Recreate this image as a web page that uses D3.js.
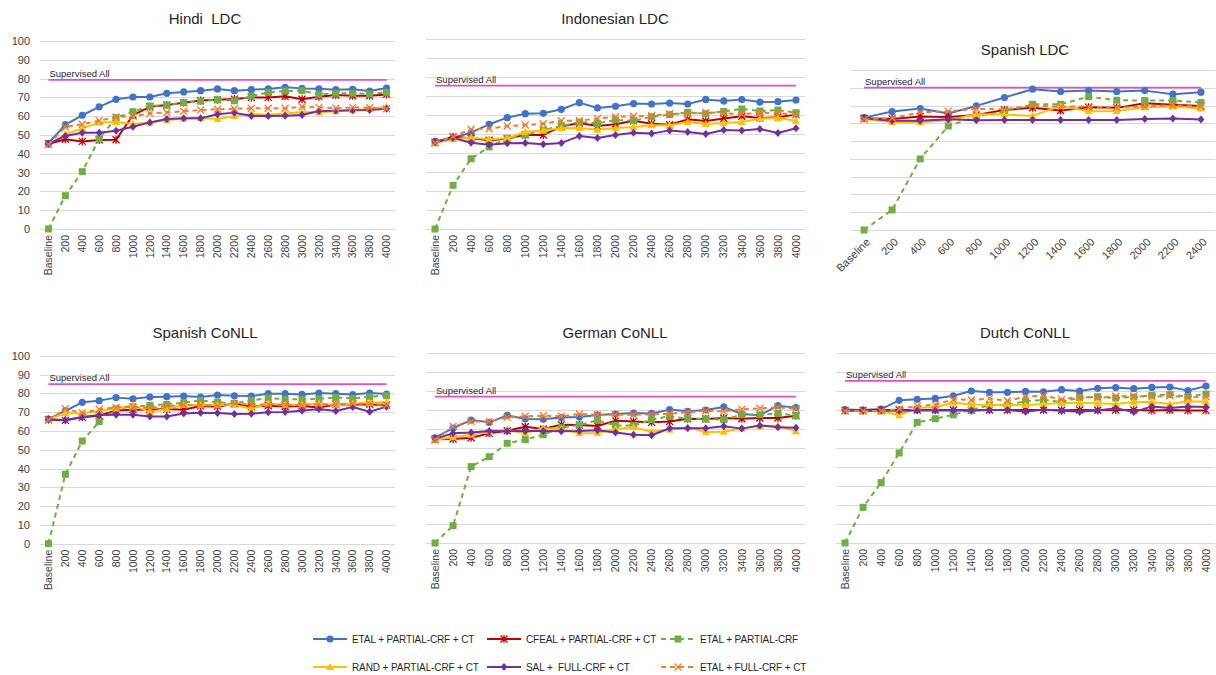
<!DOCTYPE html>
<html>
<head>
<meta charset="utf-8">
<script src="https://d3js.org/d3.v7.min.js"></script>
<style>
  body { margin: 0; background: #fff; }
  svg { font-family: "Liberation Sans", Arial, sans-serif; }
  .grid line { stroke: #d9d9d9; stroke-width: 1; }
  .tick text { fill: #404040; }
</style>
</head>
<body>
<svg width="1216" height="675"></svg>
<script>
// categories
const cats4000 = ["Baseline", "200", "400", "600", "800", "1000", "1200", "1400", "1600", "1800", "2000",
  "2200", "2400", "2600", "2800", "3000", "3200", "3400", "3600", "3800", "4000"];
const cats2400 = ["Baseline", "200", "400", "600", "800", "1000", "1200", "1400", "1600", "1800", "2000", "2200", "2400"];
const yTicks = [0, 10, 20, 30, 40, 50, 60, 70, 80, 90, 100];

const seriesNames = ["ETAL + PARTIAL-CRF + CT", "CFEAL + PARTIAL-CRF + CT", "ETAL + PARTIAL-CRF",
  "RAND + PARTIAL-CRF + CT", "SAL +  FULL-CRF + CT", "ETAL + FULL-CRF + CT"];

// Hindi LDC
const hiEtalCt  = [45.6, 55.5, 60.5, 65, 69, 70.2, 70.2, 72.2, 72.9, 73.6, 74.5, 73.6, 74.1, 74.5, 75.4, 74.8, 74.6, 74.1, 74.3, 73.4, 75];
const hiCfeal   = [45.2, 47.7, 46.6, 47.3, 47.5, 60.6, 65, 66, 67.2, 68.3, 68.8, 69.1, 69.9, 70, 70.6, 69, 70.4, 71.3, 70.9, 70.9, 71.6];
const hiEtal    = [0, 17.7, 30.5, 48, 59.2, 62.4, 65.4, 65.9, 67.2, 68, 68.7, 68.2, 70.6, 72.7, 73.4, 73.6, 71.6, 72.2, 72.2, 71.8, 72.7];
const hiRand    = [45, 50.4, 53.5, 56.6, 56.9, 55.9, 56.6, 58, 58.7, 59, 58.5, 60.1, 61.3, 60.8, 61.5, 62.2, 62, 62.6, 63.1, 64, 65];
const hiSal     = [45.2, 49.5, 51.2, 51.2, 52.3, 54.4, 56.7, 58.5, 58.9, 58.9, 61, 61.9, 60.1, 60.1, 60.3, 60.6, 62.8, 62.9, 63.1, 63.3, 64];
const hiEtalFull = [44.9, 54.3, 55.7, 57.6, 59.6, 59.9, 61.5, 62, 62.6, 63.3, 63.7, 64, 64.2, 64.2, 64.2, 65, 64.7, 64.2, 64.7, 64.5, 64];

// Indonesian LDC
const idEtalCt  = [46.1, 48, 50.7, 55.1, 58.6, 60.7, 60.9, 63, 66.5, 63.7, 64.6, 66, 65.8, 66.3, 65.8, 68.2, 67.4, 68.1, 66.8, 67, 67.9];
const idCfeal   = [45.6, 48.6, 47.7, 46.7, 47.5, 49.6, 49.5, 53.9, 55.8, 54.2, 55.1, 57, 55.4, 54.9, 57.7, 56.8, 58.2, 59.3, 58.4, 58.8, 60.2];
const idEtal    = [0, 23, 37, 43.2, 47.7, 49.5, 52.1, 54.2, 56.3, 55.6, 57.4, 57, 59.1, 60.2, 61.4, 60.7, 61.9, 63.2, 62.1, 62.6, 61.2];
const idRand    = [45.4, 47.2, 48.2, 47.2, 47.7, 51.2, 51.8, 53, 53.2, 52.3, 53.2, 53.7, 54.6, 54.6, 56.3, 55.3, 55.8, 56.3, 58.1, 58.4, 57];
const idSal     = [45.6, 47.9, 45.4, 44.4, 45.1, 45.3, 44.6, 45.3, 48.9, 47.9, 49.5, 50.7, 50.2, 51.9, 51.1, 50, 52.1, 51.9, 52.6, 50.5, 53];
const idEtalFull = [45.3, 48.6, 52.5, 52.8, 54.2, 54.7, 55.4, 57, 57, 58.2, 59.1, 59.3, 59.6, 60.7, 60.7, 61.4, 60.9, 60.4, 61.2, 60.9, 60.2];

// Spanish LDC
const esEtalCt  = [63.2, 66.6, 68.3, 65.5, 69.8, 74.5, 79.2, 77.9, 78.4, 77.9, 78.4, 76.4, 77.5];
const esCfeal   = [62.9, 62.5, 63.8, 63.6, 64.7, 67.5, 68.7, 67.2, 69, 68.7, 71.3, 70.4, 69.8];
const esEtal    = [0, 11.3, 40, 58.5, 63.8, 66.6, 70.7, 70.7, 75, 73, 72.8, 72.8, 71.7];
const esRand    = [62.5, 60.6, 60.6, 61.7, 65.1, 64.9, 64.2, 69.8, 66.8, 67, 69, 69.4, 68.3];
const esSal     = [62.9, 61.5, 61.5, 62.3, 61.7, 61.9, 61.9, 61.9, 61.9, 61.9, 62.5, 62.7, 62.1];
const esEtalFull = [62.3, 63, 66.2, 66.8, 68.1, 67.9, 70, 69.4, 69.4, 69, 69.4, 70.2, 69.4];

// Spanish CoNLL
const escEtalCt  = [66.3, 70.6, 75.2, 76.1, 77.7, 77.1, 78, 78.2, 78.5, 78, 79.1, 78.7, 78.5, 79.8, 79.8, 79.4, 80.1, 79.8, 79.3, 80.1, 79.6];
const escCfeal   = [66, 65.6, 67.2, 68.1, 70.9, 71.3, 71.3, 71.6, 71.3, 73.2, 72.9, 74.5, 72.9, 73.4, 73, 73.2, 72.5, 74.1, 74.1, 74.1, 73.8];
const escEtal    = [0, 36.9, 54.6, 64.9, 71.8, 72.9, 73.6, 74.1, 75, 76.2, 75.2, 74.6, 76.2, 77.5, 76.8, 76.8, 77.1, 77.8, 77.3, 78.2, 78.7];
const escRand    = [66.1, 69.5, 69.3, 70.6, 72, 73.6, 70, 71.8, 73.8, 73.8, 73.8, 73.8, 71.8, 74.6, 73.8, 74.1, 74.6, 73.8, 74.6, 75, 75.2];
const escSal     = [66, 65.8, 67.4, 68.4, 68.6, 68.6, 67.6, 67.7, 69.3, 69.7, 69.5, 69, 69.1, 69.9, 70, 70.7, 71.6, 70.6, 72.7, 70.2, 72.9];
const escEtalFull = [65.8, 71.8, 69.5, 71.5, 72.5, 72.7, 72.2, 73.2, 73.8, 73.6, 73.4, 74.5, 74.1, 74.1, 73.8, 73.8, 74.1, 73.9, 74.5, 74.5, 73.6];

// German CoNLL
const deEtalCt  = [55.4, 60.5, 64.7, 63.5, 67.2, 65.3, 65.1, 66, 66.3, 67.4, 67.9, 68.4, 68.2, 70.2, 69.3, 70, 71.6, 67.9, 67.2, 72.3, 71.2];
const deCfeal   = [54.6, 54.7, 55.4, 57.7, 59.1, 61.2, 60, 62.3, 62.1, 61.6, 64.4, 64, 63.5, 63.9, 65.4, 65.3, 65.8, 65.4, 65.8, 65.8, 67];
const deEtal    = [0, 9.1, 40.2, 45.4, 52.5, 54.4, 57, 60.7, 62.1, 64.6, 61.9, 61.8, 64.9, 66.7, 65.4, 65.3, 64.9, 67.5, 67.5, 68.2, 67];
const deRand    = [54.4, 55.6, 57, 58.8, 59.6, 57.9, 60.4, 60, 57.7, 57.9, 60, 60.9, 58.6, 59.6, 60.9, 58.4, 58.6, 60.2, 61.6, 61.8, 58.8];
const deSal     = [54.9, 57.7, 58.1, 58.9, 58.8, 58.9, 58.9, 58.8, 58.9, 59.3, 58.1, 57, 56.7, 60.4, 60.4, 60.4, 61.4, 60.2, 61.9, 60.9, 60.7];
const deEtalFull = [54.2, 61.4, 64, 64, 66.1, 66.7, 67, 66.7, 67.9, 67.5, 67.5, 67.5, 67.7, 68.1, 68.8, 69.5, 69.3, 70.4, 70.9, 71.4, 70.5];

// Dutch CoNLL
const nlEtalCt  = [70.2, 70, 70.5, 75.1, 75.6, 76.1, 77.5, 80, 79.3, 79.3, 79.8, 79.6, 80.7, 80, 81.4, 81.8, 81.2, 81.9, 82.1, 80.2, 82.6];
const nlCfeal   = [69.8, 69.8, 70, 70, 70, 70, 70, 69.9, 70, 70, 70, 70, 69.9, 70, 69.9, 70, 70, 69.8, 70, 69.8, 69.8];
const nlEtal    = [0, 18.8, 31.8, 47.4, 63.5, 65.4, 67.5, 70, 72.6, 72.5, 74.7, 75.3, 74.2, 76.5, 77, 76.3, 76.8, 77.7, 78.1, 77, 78.4];
const nlRand    = [69.6, 69.3, 69.3, 67.2, 71.2, 71.4, 73.9, 72.8, 72.8, 72.8, 72.6, 73.2, 73.7, 73.7, 73.5, 73.2, 74.2, 74.2, 73.2, 74.6, 74.4];
const nlSal     = [69.8, 69.6, 69.6, 69.6, 69.8, 69.8, 69.8, 69.8, 70, 70, 69.1, 70.2, 69.6, 69.1, 69.8, 70.9, 68.9, 71.9, 71, 71.9, 71.6];
const nlEtalFull = [69.5, 69.5, 69.5, 70.5, 72.1, 72.8, 75.6, 75.3, 76, 74.9, 77, 77.5, 75.6, 77, 76.3, 77.2, 77.4, 77, 77.5, 76.5, 77];

// supervised reference values
const supervisedAll = [79.3, 75.5, 80.1, 84.9, 77, 85.3];
const panelTitles = ["Hindi  LDC", "Indonesian LDC", "Spanish LDC", "Spanish CoNLL", "German CoNLL", "Dutch CoNLL"];

// styles
const colors = ["#4472C4", "#C00000", "#70AD47", "#FFC000", "#7030A0", "#ED7D31"];
const dashes = [null, null, "5,4", null, null, "5,4"];
const markers = ["circle", "star", "square", "triangle", "diamond", "x"];

const panels = [
  { cats: cats4000, data: [hiEtalCt, hiCfeal, hiEtal, hiRand, hiSal, hiEtalFull], yMax: 100, box: [40, 395, 41, 229], axisY: true, rot: -90, tx: 205, ty: 24 },
  { cats: cats4000, data: [idEtalCt, idCfeal, idEtal, idRand, idSal, idEtalFull], yMax: 100, box: [426, 805, 39, 229], axisY: false, rot: -90, tx: 615, ty: 24 },
  { cats: cats2400, data: [esEtalCt, esCfeal, esEtal, esRand, esSal, esEtalFull], yMax: 90, box: [850, 1215, 70, 230], axisY: false, rot: -45, tx: 1025, ty: 55 },
  { cats: cats4000, data: [escEtalCt, escCfeal, escEtal, escRand, escSal, escEtalFull], yMax: 100, box: [40, 395, 355.7, 543.7], axisY: true, rot: -90, tx: 205, ty: 338 },
  { cats: cats4000, data: [deEtalCt, deCfeal, deEtal, deRand, deSal, deEtalFull], yMax: 100, box: [426, 805, 353, 543], axisY: false, rot: -90, tx: 615, ty: 338 },
  { cats: cats4000, data: [nlEtalCt, nlCfeal, nlEtal, nlRand, nlSal, nlEtalFull], yMax: 100, box: [836, 1215, 353, 543], axisY: false, rot: -90, tx: 1025, ty: 338 }
];

const svg = d3.select("svg");

function drawMarker(g, type, color, cx, cy) {
  if (type === "circle") {
    g.append("circle").attr("cx", cx).attr("cy", cy).attr("r", 3.6).attr("fill", color);
  } else if (type === "square") {
    g.append("rect").attr("x", cx - 3.5).attr("y", cy - 3.5).attr("width", 7).attr("height", 7).attr("fill", color);
  } else if (type === "triangle") {
    g.append("path").attr("d", `M${cx},${cy - 4}L${cx + 4},${cy + 3}L${cx - 4},${cy + 3}Z`).attr("fill", color);
  } else if (type === "diamond") {
    g.append("path").attr("d", `M${cx},${cy - 4}L${cx + 3.5},${cy}L${cx},${cy + 4}L${cx - 3.5},${cy}Z`).attr("fill", color);
  } else if (type === "x") {
    g.append("path").attr("d", `M${cx - 3.5},${cy - 3.5}L${cx + 3.5},${cy + 3.5}M${cx + 3.5},${cy - 3.5}L${cx - 3.5},${cy + 3.5}`)
      .attr("stroke", color).attr("stroke-width", 1.3).attr("fill", "none");
  } else if (type === "star") {
    g.append("path").attr("d", `M${cx - 3.5},${cy - 3.5}L${cx + 3.5},${cy + 3.5}M${cx + 3.5},${cy - 3.5}L${cx - 3.5},${cy + 3.5}M${cx},${cy - 4}L${cx},${cy + 4}`)
      .attr("stroke", color).attr("stroke-width", 1.3).attr("fill", "none");
  }
}

panels.forEach((p, pi) => {
  const [x0, x1, y0, y1] = p.box;
  const g = svg.append("g");
  const x = d3.scaleBand().domain(p.cats).range([x0, x1]);
  const cx = c => x(c) + x.bandwidth() / 2;
  const y = d3.scaleLinear().domain([0, p.yMax]).range([y1, y0]);
  const ticks = yTicks.filter(t => t <= p.yMax);

  // grid
  g.append("g").attr("class", "grid")
    .selectAll("line").data(ticks).enter().append("line")
    .attr("x1", x0).attr("x2", x1)
    .attr("y1", d => Math.round(y(d)) + 0.5).attr("y2", d => Math.round(y(d)) + 0.5);

  // y axis labels
  if (p.axisY) {
    const ya = g.append("g").attr("transform", `translate(${x0 - 8},0)`)
      .call(d3.axisLeft(y).tickValues(ticks).tickSize(0).tickPadding(2));
    ya.select(".domain").remove();
    ya.selectAll("text").attr("font-size", 11);
  }

  // x axis labels
  const xa = g.append("g").attr("transform", `translate(0,${y1})`)
    .call(d3.axisBottom(x).tickSize(0).tickPadding(0));
  xa.select(".domain").remove();
  if (p.rot === -90) {
    xa.selectAll("text").attr("font-size", 10.5)
      .attr("text-anchor", "end").attr("dy", "0.35em")
      .attr("transform", "translate(0,6) rotate(-90)").attr("y", 0).attr("x", 0);
  } else {
    xa.selectAll("text").attr("font-size", 11)
      .attr("text-anchor", "end").attr("dy", "0.35em")
      .attr("transform", "translate(4,10) rotate(-45)").attr("y", 0).attr("x", 0);
  }

  // title
  g.append("text").attr("x", p.tx).attr("y", p.ty).attr("text-anchor", "middle")
    .attr("font-size", 15).attr("fill", "#262626").style("white-space", "pre")
    .text(panelTitles[pi]);

  // supervised line
  const sy = y(supervisedAll[pi]);
  g.append("line").attr("x1", cx(p.cats[0])).attr("x2", cx(p.cats[p.cats.length - 1]))
    .attr("y1", sy).attr("y2", sy).attr("stroke", "#E04FC8").attr("stroke-width", 1.8);
  g.append("text").attr("x", cx(p.cats[0]) + 1).attr("y", sy - 3).attr("font-size", 9.5)
    .attr("fill", "#262626").text("Supervised All");

  // series
  p.data.forEach((vals, si) => {
    const line = d3.line().x((d, i) => cx(p.cats[i])).y(d => y(d));
    g.append("path").datum(vals).attr("d", line)
      .attr("fill", "none").attr("stroke", colors[si]).attr("stroke-width", 2)
      .attr("stroke-dasharray", dashes[si]).attr("stroke-linejoin", "round");
    const mg = g.append("g");
    vals.forEach((v, i) => drawMarker(mg, markers[si], colors[si], cx(p.cats[i]), y(v)));
  });
});

// legend
const legendPos = [[313, 639], [487, 639], [661, 639], [313, 667], [487, 667], [661, 667]];
const lg = svg.append("g");
seriesNames.forEach((name, i) => {
  const [lx, ly] = legendPos[i];
  lg.append("line").attr("x1", lx).attr("x2", lx + 34).attr("y1", ly).attr("y2", ly)
    .attr("stroke", colors[i]).attr("stroke-width", 2).attr("stroke-dasharray", dashes[i]);
  drawMarker(lg, markers[i], colors[i], lx + 17, ly);
  lg.append("text").attr("x", lx + 39).attr("y", ly).attr("dy", "0.35em")
    .attr("font-size", 10).attr("letter-spacing", "-0.1px").attr("fill", "#262626")
    .style("white-space", "pre").text(name);
});
</script>
</body>
</html>
